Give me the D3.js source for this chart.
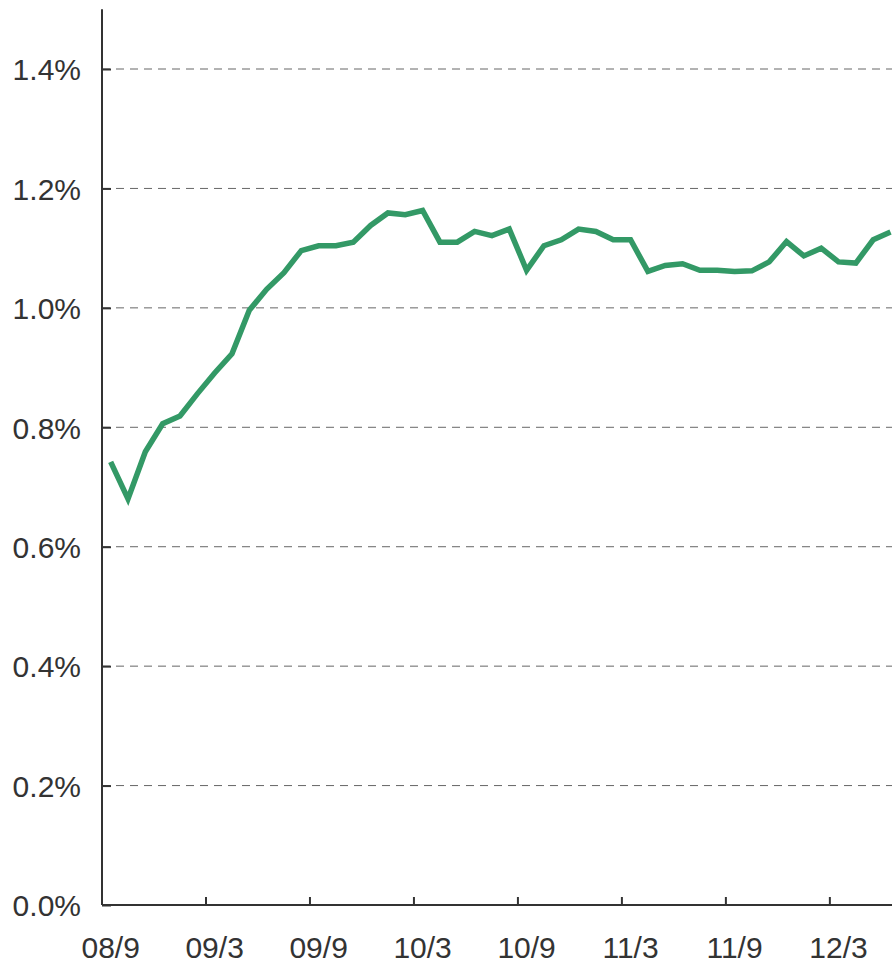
<!DOCTYPE html>
<html>
<head>
<meta charset="utf-8">
<script src="https://cdn.jsdelivr.net/npm/d3@7"></script>
<style>
  html, body { margin: 0; padding: 0; background: #fff; }
  svg { display: block; overflow: hidden; }
  text { font-family: "Liberation Sans", Arial, sans-serif; }
</style>
</head>
<body>
<script>
// Monthly categories, 2008/09 through 2012/06
const months = [
  "08/9","08/10","08/11","08/12","09/1","09/2","09/3","09/4","09/5","09/6","09/7","09/8",
  "09/9","09/10","09/11","09/12","10/1","10/2","10/3","10/4","10/5","10/6","10/7","10/8",
  "10/9","10/10","10/11","10/12","11/1","11/2","11/3","11/4","11/5","11/6","11/7","11/8",
  "11/9","11/10","11/11","11/12","12/1","12/2","12/3","12/4","12/5","12/6"
];

// Rate in percent
const rate = [
  0.742, 0.680, 0.759, 0.806, 0.819, 0.856, 0.891, 0.923, 0.996, 1.031, 1.059, 1.096,
  1.104, 1.104, 1.110, 1.138, 1.159, 1.156, 1.163, 1.110, 1.110, 1.128, 1.121, 1.132,
  1.063, 1.104, 1.114, 1.132, 1.128, 1.114, 1.114, 1.061, 1.071, 1.074, 1.063, 1.063,
  1.061, 1.062, 1.077, 1.111, 1.087, 1.100, 1.077, 1.075, 1.114, 1.127
];

// Labelled months on the x axis
const xTickLabels = ["08/9","09/3","09/9","10/3","10/9","11/3","11/9","12/3"];
// Gridline / y tick values (percent)
const yTicks = [0, 0.2, 0.4, 0.6, 0.8, 1.0, 1.2, 1.4];

const W = 892, H = 965;
const mLeft = 102, mBottom = 905, mTop = 9.3;
const step = 17.33;

const svg = d3.select("body").append("svg")
  .attr("width", W).attr("height", H);

const x = d3.scaleBand()
  .domain(months)
  .range([mLeft, mLeft + step * months.length])
  .paddingInner(0).paddingOuter(0);

const y = d3.scaleLinear().domain([0, 1.5]).range([mBottom, mTop]);

// Dashed horizontal gridlines
svg.append("g")
  .selectAll("line")
  .data(yTicks.filter(d => d > 0))
  .join("line")
  .attr("x1", mLeft).attr("x2", W)
  .attr("y1", d => y(d)).attr("y2", d => y(d))
  .attr("stroke", "#666")
  .attr("stroke-width", 1)
  .attr("stroke-dasharray", "8,6");

// Y axis
const yAxis = svg.append("g")
  .attr("transform", `translate(${mLeft},0)`)
  .call(d3.axisLeft(y).tickValues(yTicks).tickSize(-9).tickPadding(21)
    .tickFormat(d => d3.format(".1f")(d) + "%"));
yAxis.select(".domain").remove();
yAxis.append("line")
  .attr("x1", 0).attr("x2", 0)
  .attr("y1", y(1.5)).attr("y2", mBottom)
  .attr("stroke", "#333").attr("stroke-width", 2);
yAxis.selectAll(".tick line").attr("stroke", "#333").attr("stroke-width", 2);
yAxis.selectAll(".tick text")
  .attr("fill", "#333").attr("font-size", 30)
  .attr("dy", "0.36em");

// X axis: ticks at month boundaries every six months, labels centred on the month
const xg = svg.append("g");
xg.append("line")
  .attr("x1", mLeft).attr("x2", W)
  .attr("y1", mBottom).attr("y2", mBottom)
  .attr("stroke", "#333").attr("stroke-width", 2);
xg.selectAll("line.tick")
  .data(xTickLabels)
  .join("line")
  .attr("class", "tick")
  .attr("x1", d => x(d)).attr("x2", d => x(d))
  .attr("y1", mBottom).attr("y2", mBottom - 8)
  .attr("stroke", "#333").attr("stroke-width", 2);
xg.selectAll("text")
  .data(xTickLabels)
  .join("text")
  .attr("x", d => x(d) + x.bandwidth() / 2)
  .attr("y", 958)
  .attr("text-anchor", "middle")
  .attr("font-size", 30)
  .attr("fill", "#333")
  .text(d => d);

// Rate line
const line = d3.line()
  .x((d, i) => x(months[i]) + x.bandwidth() / 2)
  .y(d => y(d));

svg.append("path")
  .datum(rate)
  .attr("d", line)
  .attr("fill", "none")
  .attr("stroke", "#339966")
  .attr("stroke-width", 5.5)
  .attr("stroke-linejoin", "miter")
  .attr("stroke-linecap", "butt");
</script>
</body>
</html>
